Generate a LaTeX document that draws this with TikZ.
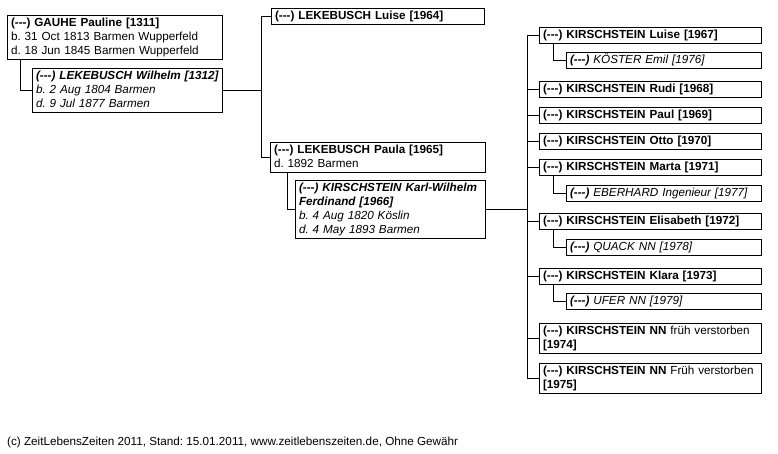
\documentclass[tikz,border=0pt]{standalone}
\usepackage{fontspec}
\setmainfont{Liberation Sans}[Ligatures=TeXOff]
\newcommand{\dsh}{(-\kern0pt-\kern0pt-)}
\newcommand{\boxline}[1]{\mbox{#1}}
\begin{document}
\frenchspacing
\begin{tikzpicture}[x=1pt,y=-1pt,
  box/.style={draw, line width=1pt, anchor=north west, align=left,
    inner xsep=3.5pt, inner ysep=1pt, text width=#1,
    font=\fontsize{11.7}{14}\selectfont\frenchspacing,
    execute at begin node=\strut, execute at end node=\strut},
  link/.style={line width=1pt}]
\fill[white] (0,0) rectangle (778,454);
\useasboundingbox (0,0) rectangle (778,454);

% generation 1
\node[box=208pt] (p1311) at (7,15) {\boxline{\textbf{\dsh{} GAUHE Pauline [1311]}}\\\boxline{b. 31 Oct 1813 Barmen Wupperfeld}\\\boxline{d. 18 Jun 1845 Barmen Wupperfeld}};
\node[box=183pt] (p1312) at (32,68) {\itshape\boxline{\textbf{\dsh{} LEKEBUSCH Wilhelm [1312]}}\\\boxline{b. 2 Aug 1804 Barmen}\\\boxline{d. 9 Jul 1877 Barmen}};

% generation 2
\node[box=206pt] (c1964) at (271,8) {\boxline{\textbf{\dsh{} LEKEBUSCH Luise [1964]}}};
\node[box=208pt] (c1965) at (270,142) {\boxline{\textbf{\dsh{} LEKEBUSCH Paula [1965]}}\\\boxline{d. 1892 Barmen}};
\node[box=183pt] (s1966) at (295,180) {\itshape\boxline{\textbf{\dsh{} KIRSCHSTEIN Karl-Wilhelm}}\\\boxline{\textbf{Ferdinand [1966]}}\\\boxline{b. 4 Aug 1820 Köslin}\\\boxline{d. 4 May 1893 Barmen}};

% generation 3
\node[box=215pt] (c1967) at (539,27) {\boxline{\textbf{\dsh{} KIRSCHSTEIN Luise [1967]}}};
\node[box=188pt] (s1976) at (566,52) {\itshape\boxline{\textbf{\dsh{}} KÖSTER Emil [1976]}};
\node[box=215pt] (c1968) at (539,81) {\boxline{\textbf{\dsh{} KIRSCHSTEIN Rudi [1968]}}};
\node[box=215pt] (c1969) at (539,107) {\boxline{\textbf{\dsh{} KIRSCHSTEIN Paul [1969]}}};
\node[box=215pt] (c1970) at (539,133) {\boxline{\textbf{\dsh{} KIRSCHSTEIN Otto [1970]}}};
\node[box=215pt] (c1971) at (539,159) {\boxline{\textbf{\dsh{} KIRSCHSTEIN Marta [1971]}}};
\node[box=188pt] (s1977) at (566,185) {\itshape\boxline{\textbf{\dsh{}} EBERHARD Ingenieur [1977]}};
\node[box=215pt] (c1972) at (539,213) {\boxline{\textbf{\dsh{} KIRSCHSTEIN Elisabeth [1972]}}};
\node[box=188pt] (s1978) at (566,239) {\itshape\boxline{\textbf{\dsh{}} QUACK NN [1978]}};
\node[box=215pt] (c1973) at (539,268) {\boxline{\textbf{\dsh{} KIRSCHSTEIN Klara [1973]}}};
\node[box=188pt] (s1979) at (566,293) {\itshape\boxline{\textbf{\dsh{}} UFER NN [1979]}};
\node[box=215pt] (c1974) at (539,323) {\boxline{\textbf{\dsh{} KIRSCHSTEIN NN} früh verstorben}\\\boxline{\textbf{[1974]}}};
\node[box=215pt] (c1975) at (539,363) {\boxline{\textbf{\dsh{} KIRSCHSTEIN NN} Früh verstorben}\\\boxline{\textbf{[1975]}}};

% connectors
\draw[link] ([xshift=13pt]p1311.south west) |- (p1312.west);
\coordinate (t1) at (261,0);
\draw[link] (p1312.east) -- (p1312.east -| t1);
\draw[link] (c1964.west) -- (c1964.west -| t1) |- (c1965.west);
\draw[link] ([xshift=17pt]c1965.south west) |- (s1966.west);
\coordinate (t2) at (527,0);
\draw[link] (s1966.east) -- (s1966.east -| t2);
\draw[link] (c1967.west) -- (c1967.west -| t2) |- (c1975.west);
\foreach \c in {1968,1969,1970,1971,1972,1973,1974}
  \draw[link] (c\c.west) -- (c\c.west -| t2);
\draw[link] ([xshift=14pt]c1967.south west) |- (s1976.west);
\draw[link] ([xshift=14pt]c1971.south west) |- (s1977.west);
\draw[link] ([xshift=14pt]c1972.south west) |- (s1978.west);
\draw[link] ([xshift=14pt]c1973.south west) |- (s1979.west);

% footer
\node[anchor=base west, inner sep=0pt, font=\fontsize{11.7}{14}\selectfont\frenchspacing] (foot) at (7,445) {(c) ZeitLebensZeiten 2011, Stand: 15.01.2011, www.zeitlebenszeiten.de, Ohne Gewähr};
\end{tikzpicture}
\end{document}
